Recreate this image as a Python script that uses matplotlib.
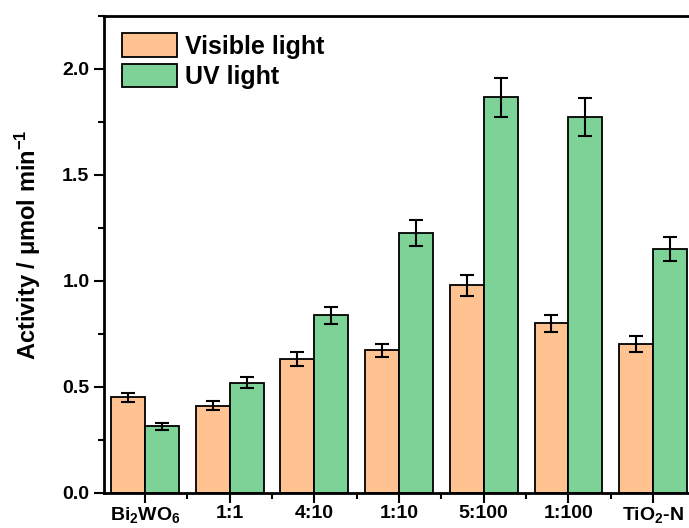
import numpy as np
import matplotlib
matplotlib.use("Agg")
import matplotlib.pyplot as plt
from matplotlib.ticker import MultipleLocator

plt.rcParams['font.family'] = ['Liberation Sans', 'DejaVu Sans']
plt.rcParams['font.weight'] = 'bold'
plt.rcParams['mathtext.default'] = 'regular'

samples = ["Bi$_2$WO$_6$", "1:1", "4:10", "1:10", "5:100", "1:100", "TiO$_2$-N"]
visible = [0.451, 0.412, 0.632, 0.673, 0.980, 0.800, 0.703]
visible_err = [0.023, 0.020, 0.032, 0.032, 0.049, 0.040, 0.036]
uv = [0.315, 0.519, 0.838, 1.228, 1.866, 1.775, 1.151]
uv_err = [0.016, 0.026, 0.041, 0.062, 0.093, 0.090, 0.058]

fig = plt.figure(figsize=(6.89, 5.28), dpi=100)
ax = fig.add_axes([0.151, 0.0663, 0.873, 0.9034])

x = np.arange(len(samples))
w = 0.4
ekw = dict(elinewidth=1.5, capthick=1.5)
ax.bar(x - w / 2, visible, w, yerr=visible_err, capsize=5, color='#FFC291',
       edgecolor='black', linewidth=1.3, error_kw=ekw, label='Visible light')
ax.bar(x + w / 2, uv, w, yerr=uv_err, capsize=5, color='#7DD397',
       edgecolor='black', linewidth=1.3, error_kw=ekw, label='UV light')

ax.set_xlim(-0.484, 6.62)
ax.set_ylim(0, 2.25)
ax.set_xticks(x)
ax.set_xticklabels(samples)
ax.xaxis.set_minor_locator(MultipleLocator(1, offset=0.5))
ax.yaxis.set_major_locator(MultipleLocator(0.5))
ax.yaxis.set_minor_locator(MultipleLocator(0.25))
ax.yaxis.set_major_formatter(matplotlib.ticker.FormatStrFormatter('%.1f'))

ax.tick_params(which='major', length=7, width=1.5, labelsize=14, direction='out')
ax.tick_params(axis='x', which='major', pad=2)
ax.tick_params(which='minor', length=4, width=1.5, direction='out')
for s in ax.spines.values():
    s.set_linewidth(2)

ax.set_ylabel("Activity / \u03bcmol min$^{-1}$", fontsize=17, fontweight='bold')
ax.yaxis.set_label_coords(-0.101, 0.52)

ax.legend(loc='upper left', frameon=False, fontsize=18, handlelength=2.2,
          handleheight=1.05, handletextpad=0.35, labelspacing=0.2,
          borderaxespad=0.3, bbox_to_anchor=(0.0, 1.0))

fig.savefig("out.png", dpi=100)
